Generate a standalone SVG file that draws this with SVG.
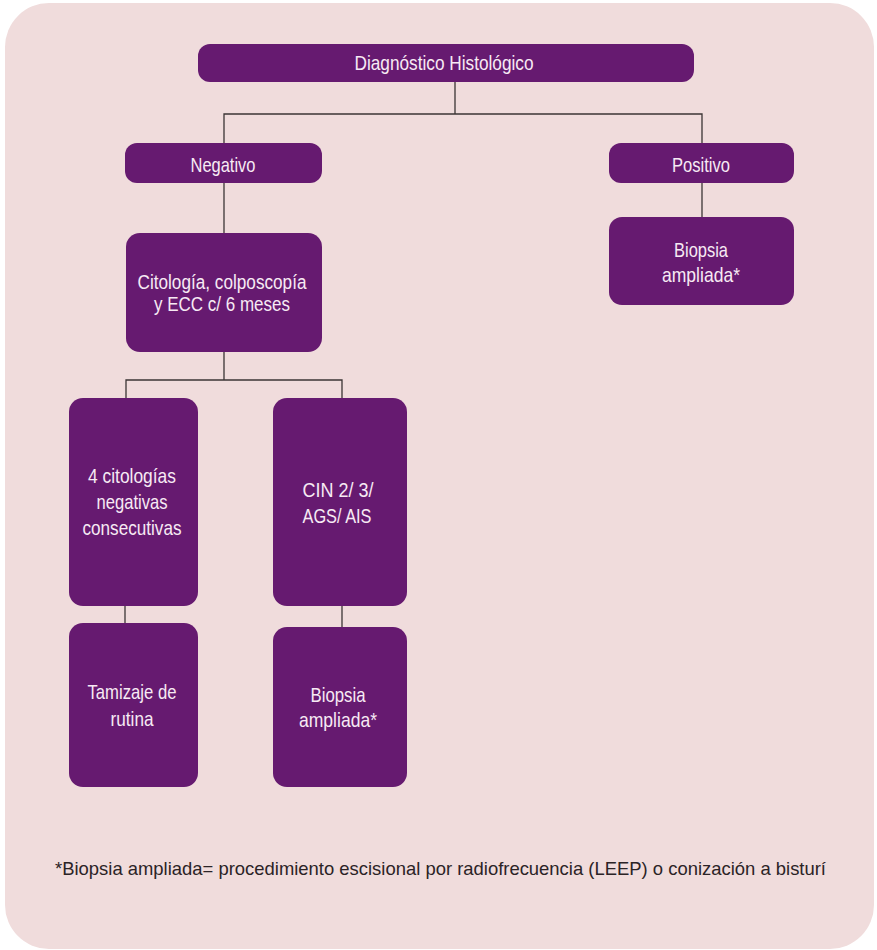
<svg xmlns="http://www.w3.org/2000/svg" width="877" height="950" viewBox="0 0 877 950">
<style>
.node{fill:#661a70;}
.lbl{font-family:"Liberation Sans",Arial,sans-serif;font-size:21px;fill:#f7eaf4;text-anchor:middle;}
.tight{font-size:20px;}
.conn{stroke:#3b3535;stroke-width:1.3;fill:none;}
.note{font-family:"Liberation Sans",Arial,sans-serif;font-size:18.5px;fill:#2b2326;}
</style>
<rect x="0" y="0" width="877" height="950" fill="#ffffff"/>
<rect x="5" y="3" width="869" height="946" rx="44" fill="#f0dcdc"/>
<g id="connectors">
<path class="conn" d="M455 81 V114 M224 143 V114 H702 V143"/>
<path class="conn" d="M224 183 V233"/>
<path class="conn" d="M702 183 V217"/>
<path class="conn" d="M224 352 V380 M126 398 V380 H342 V398"/>
<path class="conn" d="M125 606 V623"/>
<path class="conn" d="M342 606 V627"/>
</g>
<g id="n-diag">
<rect class="node" x="198" y="44" width="496" height="38" rx="12"/>
<text class="lbl" x="444" y="70" textLength="179" lengthAdjust="spacingAndGlyphs">Diagnóstico Histológico</text>
</g>
<g id="n-neg">
<rect class="node" x="125" y="143" width="197" height="40" rx="12"/>
<text class="lbl" x="223" y="172" textLength="65" lengthAdjust="spacingAndGlyphs">Negativo</text>
</g>
<g id="n-pos">
<rect class="node" x="609" y="143" width="185" height="40" rx="12"/>
<text class="lbl" x="701" y="172" textLength="58" lengthAdjust="spacingAndGlyphs">Positivo</text>
</g>
<g id="n-bio1">
<rect class="node" x="609" y="217" width="185" height="88" rx="13"/>
<text class="lbl" x="701" y="257" textLength="54" lengthAdjust="spacingAndGlyphs">Biopsia</text>
<text class="lbl" x="701" y="282" textLength="78" lengthAdjust="spacingAndGlyphs">ampliada*</text>
</g>
<g id="n-cito">
<rect class="node" x="126" y="233" width="196" height="119" rx="14"/>
<text class="lbl tight" x="222" y="289" textLength="169" lengthAdjust="spacingAndGlyphs">Citología, colposcopía</text>
<text class="lbl tight" x="222" y="311" textLength="136" lengthAdjust="spacingAndGlyphs">y ECC c/ 6 meses</text>
</g>
<g id="n-4cit">
<rect class="node" x="69" y="398" width="129" height="208" rx="14"/>
<text class="lbl" x="132" y="483" textLength="88" lengthAdjust="spacingAndGlyphs">4 citologías</text>
<text class="lbl" x="132" y="509" textLength="71" lengthAdjust="spacingAndGlyphs">negativas</text>
<text class="lbl" x="132" y="535" textLength="99" lengthAdjust="spacingAndGlyphs">consecutivas</text>
</g>
<g id="n-cin">
<rect class="node" x="273" y="398" width="134" height="208" rx="14"/>
<text class="lbl" x="338" y="497" textLength="71" lengthAdjust="spacingAndGlyphs">CIN 2/ 3/</text>
<text class="lbl" x="337" y="523" textLength="69" lengthAdjust="spacingAndGlyphs">AGS/ AIS</text>
</g>
<g id="n-tam">
<rect class="node" x="69" y="623" width="129" height="164" rx="14"/>
<text class="lbl" x="132" y="699" textLength="89" lengthAdjust="spacingAndGlyphs">Tamizaje de</text>
<text class="lbl" x="132" y="726" textLength="43" lengthAdjust="spacingAndGlyphs">rutina</text>
</g>
<g id="n-bio2">
<rect class="node" x="273" y="627" width="134" height="160" rx="14"/>
<text class="lbl" x="338" y="702" textLength="55" lengthAdjust="spacingAndGlyphs">Biopsia</text>
<text class="lbl" x="338" y="727" textLength="78" lengthAdjust="spacingAndGlyphs">ampliada*</text>
</g>
<text class="note" x="55" y="875" textLength="771" lengthAdjust="spacingAndGlyphs">*Biopsia ampliada= procedimiento escisional por radiofrecuencia (LEEP) o conización a bisturí</text>
</svg>
